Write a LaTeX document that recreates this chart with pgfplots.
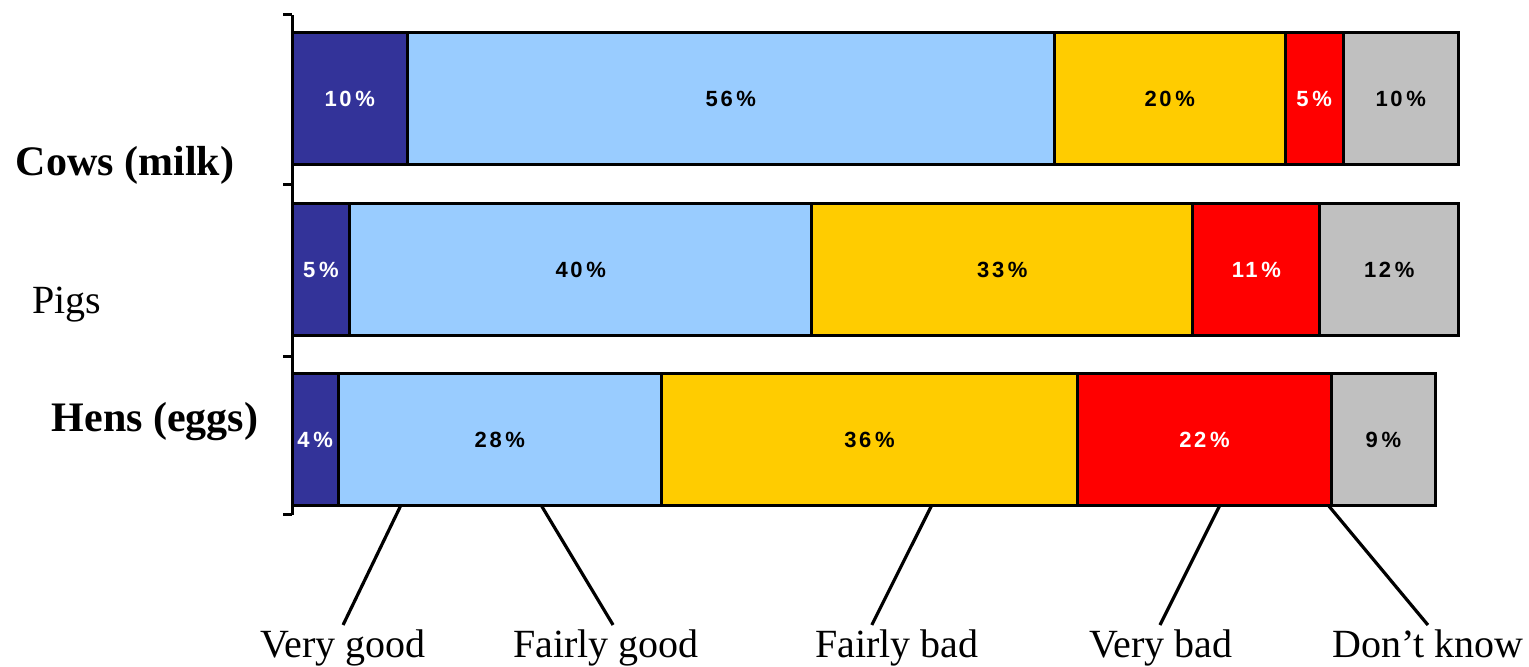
\documentclass[border=0pt]{standalone}
\usepackage{fontspec}
\setmainfont{Liberation Serif}
\newfontfamily\barfont[LetterSpace=12]{Liberation Sans}
\usepackage{pgfplots}
\pgfplotsset{compat=1.18}
\definecolor{cVG}{RGB}{51,51,153}
\definecolor{cFG}{RGB}{153,204,255}
\definecolor{cFB}{RGB}{255,204,0}
\definecolor{cVB}{RGB}{255,0,0}
\definecolor{cDK}{RGB}{192,192,192}
\begin{document}
\begin{tikzpicture}
\useasboundingbox (0,0) rectangle (764.5pt,333.5pt);
\begin{axis}[
  at={(146pt,76pt)}, anchor=south west,
  scale only axis, width=583.25pt, height=250pt,
  xmin=0, xmax=101, ymin=0, ymax=500,
  xbar stacked, bar width=66pt,
  axis x line=none, axis y line*=left,
  y axis line style={-, line width=1.5pt},
  ytick={0,158,330,500}, yticklabels={},
  tick align=outside, major tick length=4.5pt,
  every tick/.style={black, line width=1.5pt},
  clip=false,
  point meta=explicit,
  /pgf/number format/assume math mode=true,
  nodes near coords={\pgfmathprintnumber{\pgfplotspointmeta}\,\%},
  every node near coord/.append style={font=\barfont\bfseries\fontsize{11}{11}\selectfont, black},
]
\addplot[fill=cVG, draw=black, line width=1.5pt, every node near coord/.append style={white}]
  coordinates {(10,416) [10] (5,245) [5] (4,75) [4]};
\addplot[fill=cFG, draw=black, line width=1.5pt]
  coordinates {(56,416) [56] (40,245) [40] (28,75) [28]};
\addplot[fill=cFB, draw=black, line width=1.5pt]
  coordinates {(20,416) [20] (33,245) [33] (36,75) [36]};
\addplot[fill=cVB, draw=black, line width=1.5pt, every node near coord/.append style={white}]
  coordinates {(5,416) [5] (11,245) [11] (22,75) [22]};
\addplot[fill=cDK, draw=black, line width=1.5pt]
  coordinates {(10,416) [10] (12,245) [12] (9,75) [9]};
\draw[line width=1.6pt] (axis cs:9.44,10) -- (axis cs:4.42,-110);
\draw[line width=1.6pt] (axis cs:21.56,10) -- (axis cs:27.8,-110);
\draw[line width=1.6pt] (axis cs:55.4,10) -- (axis cs:50.2,-110);
\draw[line width=1.6pt] (axis cs:80.35,10) -- (axis cs:75.15,-110);
\draw[line width=1.6pt] (axis cs:89.7,10) -- (axis cs:98.35,-110);
\end{axis}
\begin{scope}[x=0.5pt,y=0.5pt,font=\fontsize{20}{24}\selectfont]
\node[anchor=base] at (343,9) {Very good};
\node[anchor=base] at (606,9) {Fairly good};
\node[anchor=base] at (897,9) {Fairly bad};
\node[anchor=base] at (1161,9) {Very bad};
\node[anchor=base] at (1428,9) {Don’t know};
\node[anchor=base,font=\fontsize{21}{24}\selectfont\bfseries] at (125,491) {Cows (milk)};
\node[anchor=base] at (67,353) {Pigs};
\node[anchor=base,font=\fontsize{21}{24}\selectfont\bfseries] at (155,235) {Hens (eggs)};
\end{scope}
\end{tikzpicture}
\end{document}
